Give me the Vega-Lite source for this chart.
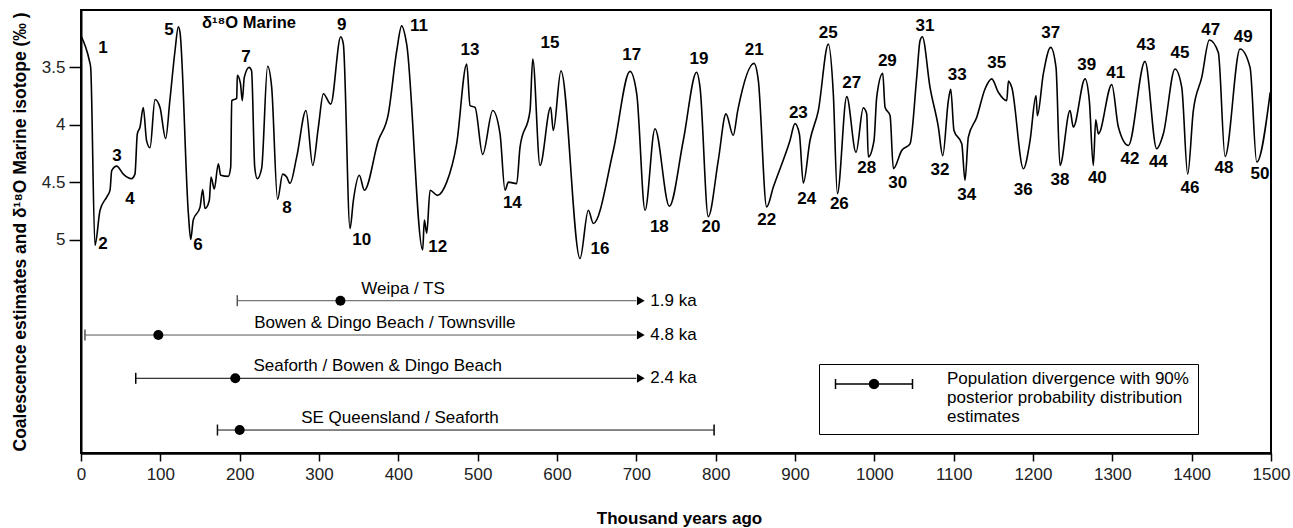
{
  "$schema": "https://vega.github.io/schema/vega-lite/v6.json",
  "width": 1190,
  "height": 443,
  "autosize": "none",
  "padding": {"left": 81, "top": 10, "right": 22, "bottom": 75},
  "background": "white",
  "config": {
    "font": "Liberation Sans",
    "view": {"stroke": "black", "strokeWidth": 2},
    "axis": {"grid": false}
  },
  "datasets": {
    "d18o": [
      {"age": 0, "d18O": 3.225}, {"age": 10.5, "d18O": 3.44}, {"age": 12.2, "d18O": 3.5}, {"age": 17.6, "d18O": 5.05},
      {"age": 24, "d18O": 4.745}, {"age": 32.4, "d18O": 4.63}, {"age": 36.6, "d18O": 4.57}, {"age": 38.7, "d18O": 4.4},
      {"age": 45, "d18O": 4.36}, {"age": 53.3, "d18O": 4.43}, {"age": 63.6, "d18O": 4.47}, {"age": 68, "d18O": 4.43},
      {"age": 71, "d18O": 4.08}, {"age": 74.4, "d18O": 4.02}, {"age": 78.5, "d18O": 3.85}, {"age": 82.7, "d18O": 4.14},
      {"age": 87, "d18O": 4.2}, {"age": 93.3, "d18O": 3.78}, {"age": 99.6, "d18O": 3.85}, {"age": 106.7, "d18O": 4.12},
      {"age": 112, "d18O": 3.79}, {"age": 118.5, "d18O": 3.355}, {"age": 122.7, "d18O": 3.146}, {"age": 124.8, "d18O": 3.196},
      {"age": 135.3, "d18O": 4.77}, {"age": 138.3, "d18O": 5.0}, {"age": 141.5, "d18O": 4.83}, {"age": 150, "d18O": 4.72},
      {"age": 153.4, "d18O": 4.565}, {"age": 156.3, "d18O": 4.73}, {"age": 161.7, "d18O": 4.66}, {"age": 163.9, "d18O": 4.455},
      {"age": 168, "d18O": 4.56}, {"age": 173.1, "d18O": 4.34}, {"age": 176.1, "d18O": 4.44}, {"age": 185.6, "d18O": 4.45},
      {"age": 188.7, "d18O": 4.37}, {"age": 190, "d18O": 3.79}, {"age": 196.3, "d18O": 3.77}, {"age": 197, "d18O": 3.57},
      {"age": 201, "d18O": 3.64}, {"age": 203.3, "d18O": 3.79}, {"age": 205.8, "d18O": 3.587}, {"age": 212, "d18O": 3.5},
      {"age": 215, "d18O": 3.53}, {"age": 219, "d18O": 4.37}, {"age": 222.2, "d18O": 4.47}, {"age": 227.7, "d18O": 4.38},
      {"age": 235.2, "d18O": 3.49}, {"age": 240.3, "d18O": 3.67}, {"age": 247.8, "d18O": 4.65}, {"age": 254.2, "d18O": 4.43},
      {"age": 259.3, "d18O": 4.455}, {"age": 263.4, "d18O": 4.51}, {"age": 271.9, "d18O": 4.28}, {"age": 283.6, "d18O": 3.876},
      {"age": 292.1, "d18O": 4.354}, {"age": 299.2, "d18O": 4.02}, {"age": 305.5, "d18O": 3.73}, {"age": 314.8, "d18O": 3.82},
      {"age": 327.4, "d18O": 3.233}, {"age": 330.7, "d18O": 3.297}, {"age": 339.1, "d18O": 4.904}, {"age": 343.3, "d18O": 4.66},
      {"age": 350.8, "d18O": 4.44}, {"age": 357.2, "d18O": 4.57}, {"age": 374.8, "d18O": 4.137}, {"age": 387.4, "d18O": 3.905},
      {"age": 398, "d18O": 3.355}, {"age": 404.2, "d18O": 3.138}, {"age": 410.5, "d18O": 3.297}, {"age": 430.7, "d18O": 5.09},
      {"age": 432.8, "d18O": 4.83}, {"age": 435.8, "d18O": 4.945}, {"age": 440, "d18O": 4.57}, {"age": 449.2, "d18O": 4.615},
      {"age": 461, "d18O": 4.5}, {"age": 473.5, "d18O": 4.166}, {"age": 486.2, "d18O": 3.47}, {"age": 490.4, "d18O": 3.833},
      {"age": 496.7, "d18O": 3.848}, {"age": 506.3, "d18O": 4.258}, {"age": 519, "d18O": 3.876}, {"age": 528.2, "d18O": 4.08},
      {"age": 534.5, "d18O": 4.57}, {"age": 538.7, "d18O": 4.5}, {"age": 549.2, "d18O": 4.513}, {"age": 553.4, "d18O": 4.195},
      {"age": 566, "d18O": 3.876}, {"age": 569.4, "d18O": 3.427}, {"age": 578.6, "d18O": 4.354}, {"age": 592, "d18O": 3.848},
      {"age": 595.3, "d18O": 4.05}, {"age": 605, "d18O": 3.53}, {"age": 629, "d18O": 5.165}, {"age": 639.5, "d18O": 4.745},
      {"age": 645.8, "d18O": 4.86}, {"age": 671, "d18O": 4.224}, {"age": 692, "d18O": 3.535}, {"age": 700.5, "d18O": 3.73},
      {"age": 711, "d18O": 4.745}, {"age": 723.5, "d18O": 4.035}, {"age": 741.6, "d18O": 4.71}, {"age": 759.2, "d18O": 4.137},
      {"age": 776, "d18O": 3.543}, {"age": 780.3, "d18O": 3.674}, {"age": 790.7, "d18O": 4.8}, {"age": 803.3, "d18O": 4.31},
      {"age": 813, "d18O": 3.905}, {"age": 822.1, "d18O": 4.093}, {"age": 827.8, "d18O": 3.876}, {"age": 848.3, "d18O": 3.465},
      {"age": 853.8, "d18O": 3.616}, {"age": 864.3, "d18O": 4.716}, {"age": 872.7, "d18O": 4.543}, {"age": 893.7, "d18O": 4.137},
      {"age": 900, "d18O": 3.99}, {"age": 905.5, "d18O": 4.079}, {"age": 910.5, "d18O": 4.508}, {"age": 918.9, "d18O": 4.137},
      {"age": 929.4, "d18O": 3.876}, {"age": 942, "d18O": 3.297}, {"age": 948.3, "d18O": 3.73}, {"age": 953.4, "d18O": 4.6},
      {"age": 965.2, "d18O": 3.755}, {"age": 976.9, "d18O": 4.24}, {"age": 986.1, "d18O": 3.853}, {"age": 990.4, "d18O": 3.905},
      {"age": 992.4, "d18O": 4.28}, {"age": 999.6, "d18O": 4.137}, {"age": 1003, "d18O": 3.76}, {"age": 1010.6, "d18O": 3.552},
      {"age": 1013.5, "d18O": 3.848}, {"age": 1019.8, "d18O": 3.92}, {"age": 1024, "d18O": 4.383}, {"age": 1034.5, "d18O": 4.224},
      {"age": 1045, "d18O": 4.166}, {"age": 1053.4, "d18O": 3.587}, {"age": 1057.6, "d18O": 3.268}, {"age": 1060.5, "d18O": 3.233},
      {"age": 1070.2, "d18O": 3.674}, {"age": 1080.7, "d18O": 4.02}, {"age": 1086.2, "d18O": 4.27}, {"age": 1093.3, "d18O": 3.79},
      {"age": 1096.3, "d18O": 3.69}, {"age": 1100.4, "d18O": 4.05}, {"age": 1110.2, "d18O": 4.166}, {"age": 1114.3, "d18O": 4.484},
      {"age": 1118.5, "d18O": 4.108}, {"age": 1129.1, "d18O": 3.934}, {"age": 1139.5, "d18O": 3.688}, {"age": 1148, "d18O": 3.6},
      {"age": 1156.3, "d18O": 3.717}, {"age": 1166.9, "d18O": 3.79}, {"age": 1169, "d18O": 3.62}, {"age": 1173.2, "d18O": 3.674},
      {"age": 1187.9, "d18O": 4.383}, {"age": 1196.3, "d18O": 4.137}, {"age": 1203.8, "d18O": 3.746}, {"age": 1205.5, "d18O": 3.92},
      {"age": 1213, "d18O": 3.557}, {"age": 1222.3, "d18O": 3.326}, {"age": 1229, "d18O": 3.5}, {"age": 1234, "d18O": 4.354},
      {"age": 1246.7, "d18O": 3.876}, {"age": 1250.8, "d18O": 4.02}, {"age": 1265.6, "d18O": 3.6}, {"age": 1271, "d18O": 3.79},
      {"age": 1276, "d18O": 4.354}, {"age": 1279.1, "d18O": 3.957}, {"age": 1282.4, "d18O": 4.079}, {"age": 1299.3, "d18O": 3.65},
      {"age": 1307.6, "d18O": 4.02}, {"age": 1320.2, "d18O": 4.18}, {"age": 1341.2, "d18O": 3.448}, {"age": 1355.9, "d18O": 4.209},
      {"age": 1364.3, "d18O": 4.079}, {"age": 1379, "d18O": 3.514}, {"age": 1387.5, "d18O": 3.674}, {"age": 1395, "d18O": 4.43},
      {"age": 1402.1, "d18O": 3.876}, {"age": 1412.7, "d18O": 3.587}, {"age": 1422.3, "d18O": 3.262}, {"age": 1433.6, "d18O": 3.37},
      {"age": 1442.1, "d18O": 4.276}, {"age": 1461, "d18O": 3.34}, {"age": 1473.6, "d18O": 3.5}, {"age": 1482, "d18O": 4.325},
      {"age": 1499, "d18O": 3.717}
    ],
    "stages": [
      {"stage": "1", "age": 27.7, "d18O": 3.331}, {"stage": "2", "age": 27.7, "d18O": 5.039},
      {"stage": "3", "age": 45.4, "d18O": 4.272}, {"stage": "4", "age": 61.8, "d18O": 4.647},
      {"stage": "5", "age": 110.9, "d18O": 3.174}, {"stage": "6", "age": 147.5, "d18O": 5.048},
      {"stage": "7", "age": 208, "d18O": 3.41}, {"stage": "8", "age": 259.7, "d18O": 4.725},
      {"stage": "9", "age": 328.6, "d18O": 3.131}, {"stage": "10", "age": 353.8, "d18O": 5.004},
      {"stage": "11", "age": 426, "d18O": 3.139}, {"stage": "12", "age": 449.6, "d18O": 5.065},
      {"stage": "13", "age": 490.3, "d18O": 3.349}, {"stage": "14", "age": 543.7, "d18O": 4.679},
      {"stage": "15", "age": 591.2, "d18O": 3.288}, {"stage": "16", "age": 654.2, "d18O": 5.085},
      {"stage": "17", "age": 694.2, "d18O": 3.392}, {"stage": "18", "age": 729, "d18O": 4.893},
      {"stage": "19", "age": 779, "d18O": 3.427}, {"stage": "20", "age": 794.1, "d18O": 4.893},
      {"stage": "21", "age": 848.7, "d18O": 3.349}, {"stage": "22", "age": 864.4, "d18O": 4.83},
      {"stage": "23", "age": 904.2, "d18O": 3.895}, {"stage": "24", "age": 914.8, "d18O": 4.649},
      {"stage": "25", "age": 942, "d18O": 3.203}, {"stage": "26", "age": 955.9, "d18O": 4.69},
      {"stage": "27", "age": 971.5, "d18O": 3.633}, {"stage": "28", "age": 990.4, "d18O": 4.379},
      {"stage": "29", "age": 1016.4, "d18O": 3.442}, {"stage": "30", "age": 1029.5, "d18O": 4.505},
      {"stage": "31", "age": 1063.9, "d18O": 3.139}, {"stage": "32", "age": 1082.8, "d18O": 4.394},
      {"stage": "33", "age": 1104.6, "d18O": 3.566}, {"stage": "34", "age": 1116.4, "d18O": 4.612},
      {"stage": "35", "age": 1154.3, "d18O": 3.459}, {"stage": "36", "age": 1187.8, "d18O": 4.568},
      {"stage": "37", "age": 1222.3, "d18O": 3.203}, {"stage": "38", "age": 1234.1, "d18O": 4.481},
      {"stage": "39", "age": 1267.7, "d18O": 3.479}, {"stage": "40", "age": 1281.1, "d18O": 4.466},
      {"stage": "41", "age": 1304.3, "d18O": 3.546}, {"stage": "42", "age": 1322.3, "d18O": 4.301},
      {"stage": "43", "age": 1342.4, "d18O": 3.305}, {"stage": "44", "age": 1358, "d18O": 4.322},
      {"stage": "45", "age": 1385.3, "d18O": 3.377}, {"stage": "46", "age": 1397.9, "d18O": 4.548},
      {"stage": "47", "age": 1424, "d18O": 3.174}, {"stage": "48", "age": 1440.8, "d18O": 4.379},
      {"stage": "49", "age": 1465.1, "d18O": 3.238}, {"stage": "50", "age": 1486.1, "d18O": 4.429}
    ],
    "divergence": [
      {"pair": "Weipa / TS", "lower": 197, "mode": 327, "upper": 700, "track": 5.533, "label_age": 406, "note": "1.9 ka"},
      {"pair": "Bowen & Dingo Beach / Townsville", "lower": 5, "mode": 97.5, "upper": 700, "track": 5.832, "label_age": 383, "note": "4.8 ka"},
      {"pair": "Seaforth / Bowen & Dingo Beach", "lower": 69, "mode": 194.5, "upper": 700, "track": 6.209, "label_age": 374, "note": "2.4 ka"},
      {"pair": "SE Queensland / Seaforth", "lower": 172, "mode": 200, "upper": 798, "track": 6.66, "label_age": 402, "note": ""}
    ]
  },
  "layer": [
    {
      "data": {"name": "d18o"},
      "mark": {"type": "line", "interpolate": "monotone", "color": "black", "strokeWidth": 1.6},
      "encoding": {
        "x": {
          "field": "age", "type": "quantitative",
          "scale": {"domain": [0, 1500], "nice": false, "zero": false},
          "axis": {
            "values": [0, 100, 200, 300, 400, 500, 600, 700, 800, 900, 1000, 1100, 1200, 1300, 1400, 1500],
            "format": "d", "title": "Thousand years ago", "titleFontSize": 17, "titleFontWeight": "bold",
            "titleColor": "black", "titleX": 598, "titleY": 65, "titleBaseline": "middle", "titleAlign": "center",
            "labelFontSize": 17, "labelColor": "#222", "labelPadding": 5, "labelFlush": false, "labelOverlap": false,
            "tickSize": 8, "tickWidth": 1.5, "tickColor": "black", "domainColor": "black", "domainWidth": 2.5
          }
        },
        "y": {
          "field": "d18O", "type": "quantitative",
          "scale": {"domain": [3.0, 6.86], "reverse": true, "nice": false, "zero": false},
          "axis": {
            "values": [3.5, 4, 4.5, 5], "format": "~g",
            "title": "Coalescence estimates and δ¹⁸O Marine isotope (‰ )", "titleFontSize": 17.5, "titleFontWeight": "bold",
            "titleColor": "black", "titleX": -61, "titleY": 221.5, "titleAngle": -90, "titleBaseline": "middle", "titleAlign": "center",
            "labelFontSize": 17, "labelColor": "#222", "labelPadding": 4,
            "tickSize": 12, "tickWidth": 1.5, "tickColor": "black", "domainColor": "black", "domainWidth": 2
          }
        }
      }
    },
    {
      "mark": {"type": "rule", "color": "#444", "strokeWidth": 1.5, "strokeDash": [1.5, 1.5]},
      "encoding": {"y": {"datum": 5.19}}
    },
    {
      "data": {"name": "stages"},
      "mark": {"type": "text", "fontWeight": "bold", "fontSize": 17, "align": "center", "baseline": "middle", "color": "black"},
      "encoding": {
        "x": {"field": "age", "type": "quantitative"},
        "y": {"field": "d18O", "type": "quantitative"},
        "text": {"field": "stage"}
      }
    },
    {
      "data": {"values": [{"label": "δ¹⁸O Marine", "age": 211.8, "d18O": 3.113}]},
      "mark": {"type": "text", "fontWeight": "bold", "fontSize": 16.5, "align": "center", "baseline": "middle", "color": "black"},
      "encoding": {
        "x": {"field": "age", "type": "quantitative"},
        "y": {"field": "d18O", "type": "quantitative"},
        "text": {"field": "label"}
      }
    },
    {
      "data": {"name": "divergence"},
      "mark": {"type": "rule"},
      "encoding": {
        "x": {"field": "lower", "type": "quantitative"},
        "x2": {"field": "upper"},
        "y": {"field": "track", "type": "quantitative"},
        "stroke": {"field": "pair", "type": "nominal", "legend": null,
          "scale": {"domain": ["Weipa / TS", "Bowen & Dingo Beach / Townsville", "Seaforth / Bowen & Dingo Beach", "SE Queensland / Seaforth"], "range": ["#555", "#555", "#000", "#111"]}},
        "strokeWidth": {"field": "pair", "type": "nominal", "legend": null,
          "scale": {"domain": ["Weipa / TS", "Bowen & Dingo Beach / Townsville", "Seaforth / Bowen & Dingo Beach", "SE Queensland / Seaforth"], "range": [1, 1, 2.2, 1.6]}}
      }
    },
    {
      "data": {"name": "divergence"},
      "mark": {"type": "tick", "orient": "vertical", "size": 11, "thickness": 1.5, "opacity": 1},
      "encoding": {
        "x": {"field": "lower", "type": "quantitative"},
        "y": {"field": "track", "type": "quantitative"},
        "fill": {"field": "pair", "type": "nominal", "legend": null,
          "scale": {"domain": ["Weipa / TS", "Bowen & Dingo Beach / Townsville", "Seaforth / Bowen & Dingo Beach", "SE Queensland / Seaforth"], "range": ["#555", "#555", "#000", "#111"]}}
      }
    },
    {
      "data": {"name": "divergence"},
      "transform": [{"filter": "datum.note == ''"}],
      "mark": {"type": "tick", "orient": "vertical", "size": 11, "thickness": 1.6, "opacity": 1, "color": "#111"},
      "encoding": {
        "x": {"field": "upper", "type": "quantitative"},
        "y": {"field": "track", "type": "quantitative"}
      }
    },
    {
      "data": {"name": "divergence"},
      "transform": [{"filter": "datum.note != ''"}],
      "mark": {"type": "point", "shape": "triangle-right", "filled": true, "size": 80, "opacity": 1, "color": "black", "xOffset": 4.5},
      "encoding": {
        "x": {"field": "upper", "type": "quantitative"},
        "y": {"field": "track", "type": "quantitative"}
      }
    },
    {
      "data": {"name": "divergence"},
      "transform": [{"filter": "datum.note != ''"}],
      "mark": {"type": "text", "fontSize": 17, "align": "left", "baseline": "middle", "dx": 14, "color": "black"},
      "encoding": {
        "x": {"field": "upper", "type": "quantitative"},
        "y": {"field": "track", "type": "quantitative"},
        "text": {"field": "note"}
      }
    },
    {
      "data": {"name": "divergence"},
      "mark": {"type": "text", "fontSize": 17, "align": "center", "baseline": "middle", "dy": -12, "color": "black"},
      "encoding": {
        "x": {"field": "label_age", "type": "quantitative"},
        "y": {"field": "track", "type": "quantitative"},
        "text": {"field": "pair"}
      }
    },
    {
      "data": {"name": "divergence"},
      "mark": {"type": "point", "filled": true, "size": 100, "opacity": 1},
      "encoding": {
        "x": {"field": "mode", "type": "quantitative"},
        "y": {"field": "track", "type": "quantitative"},
        "color": {
          "datum": "Population divergence with 90%|posterior probability distribution|estimates",
          "scale": {"range": ["black"]},
          "legend": {
            "title": null, "orient": "none", "legendX": 738, "legendY": 354,
            "symbolType": "M-3.85,0L3.85,0M-3.85,-0.5L-3.85,0.5M3.85,-0.5L3.85,0.5M0.45,0L0.39,0.225L0.225,0.39L0,0.45L-0.225,0.39L-0.39,0.225L-0.45,0L-0.39,-0.225L-0.225,-0.39L0,-0.45L0.225,-0.39L0.39,-0.225Z",
            "symbolSize": 400, "symbolFillColor": "black", "symbolStrokeColor": "black", "symbolStrokeWidth": 1.5,
            "symbolOffset": 35, "labelOffset": 62, "padding": 9, "strokeColor": "black",
            "labelFontSize": 17, "labelColor": "black", "labelLimit": 500, "labelBaseline": "alphabetic",
            "labelExpr": "split(datum.label, '|')"
          }
        }
      }
    }
  ]
}
